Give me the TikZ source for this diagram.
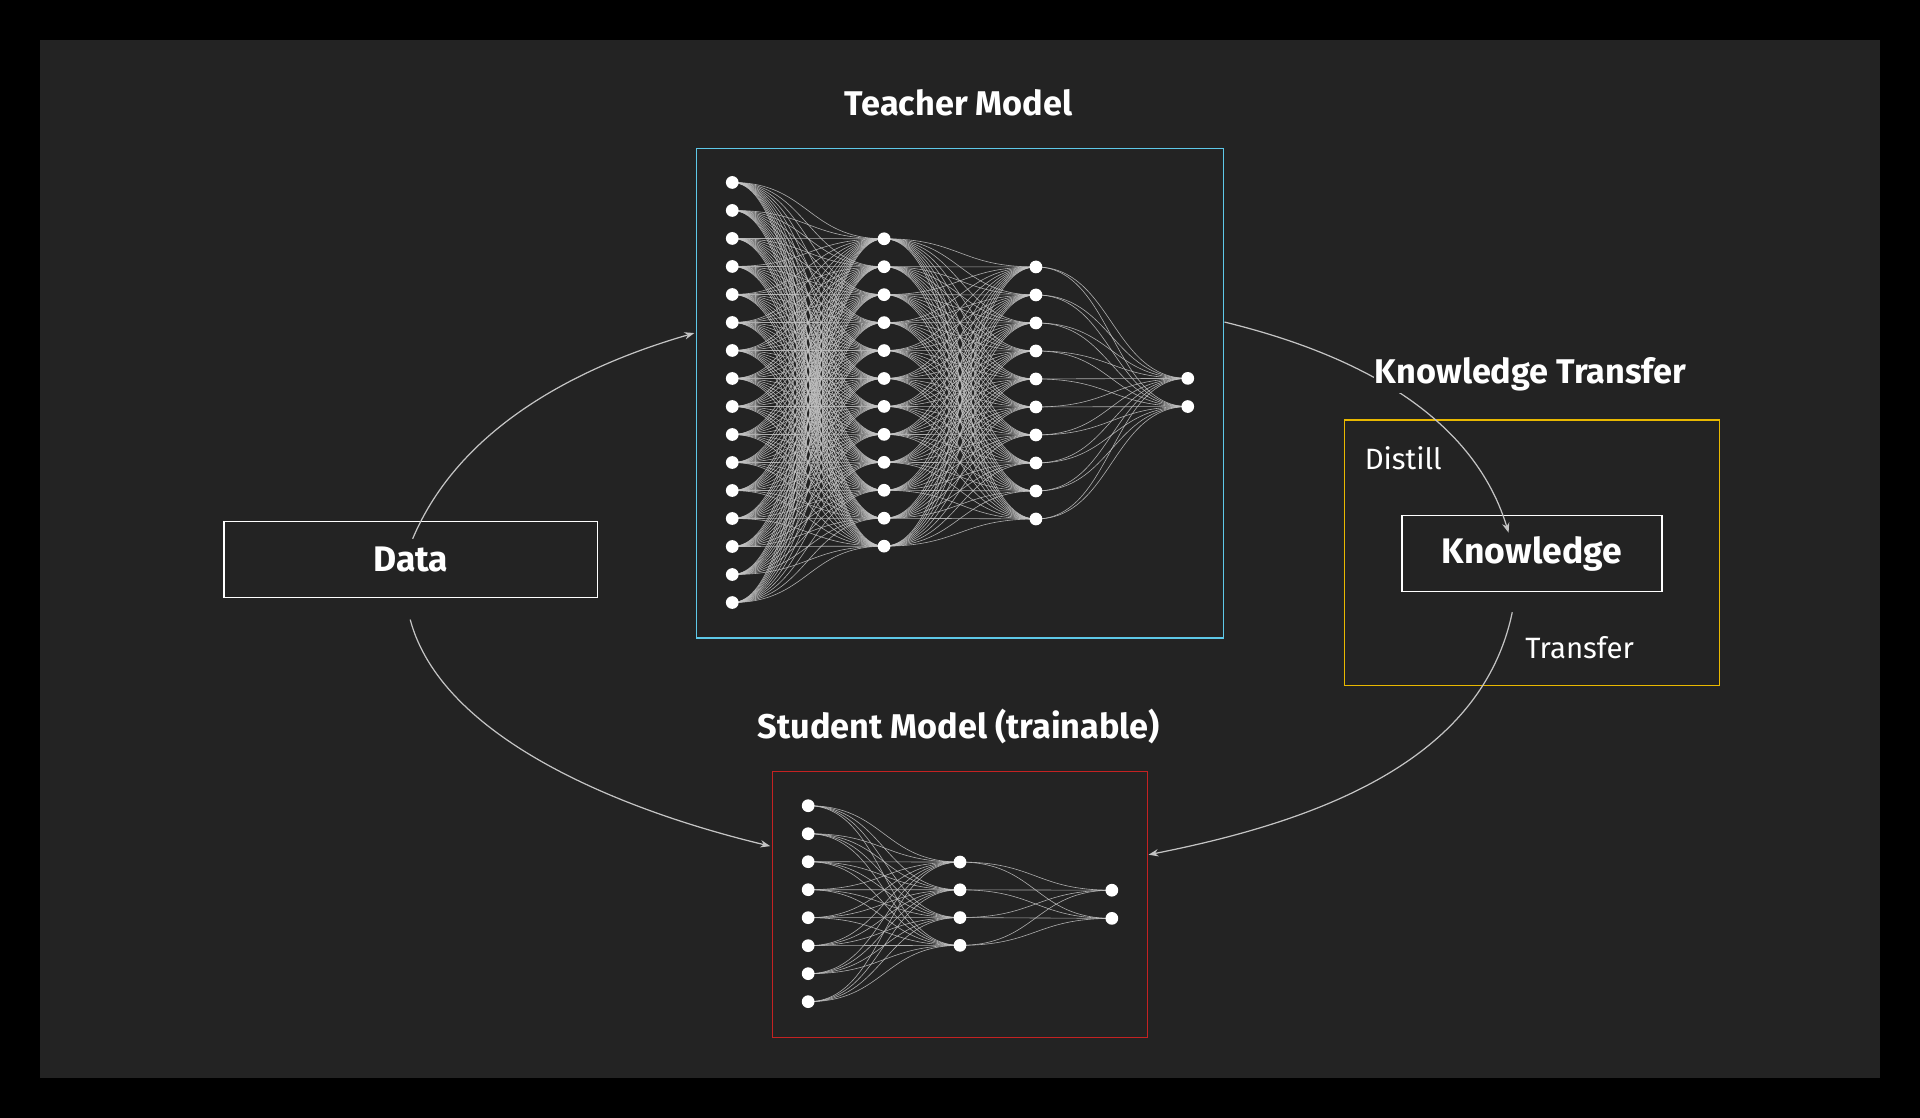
\documentclass[tikz,border=0pt]{standalone}
\usepackage{fontspec}
\setmainfont{Fira Sans}
\usetikzlibrary{arrows.meta}
\definecolor{bg}{HTML}{232323}
\definecolor{edge}{HTML}{C4C4C4}
\definecolor{tcyan}{HTML}{5EC8E8}
\definecolor{sred}{HTML}{C42222}
\definecolor{kyel}{HTML}{E8B800}
\tikzset{
  conn/.style={draw=edge, line width=0.5pt, opacity=0.85},
  neuron/.style={fill=white},
  flow/.style={draw=edge, line width=1pt, -{Stealth[length=8pt,width=6pt]}},
  title/.style={text=white, font=\fontsize{28}{32}\selectfont\bfseries},
  boxtext/.style={text=white, font=\fontsize{29}{34}\selectfont\bfseries},
  small/.style={text=white, font=\fontsize{24}{28}\selectfont},
}
\begin{document}
\begin{tikzpicture}[x=1pt,y=-1pt]
\useasboundingbox (0,0) rectangle (1568,913);
\fill[black] (0,0) rectangle (1568,913);
\fill[bg] (33,33) rectangle (1535,880);
% boxes
\node[draw=tcyan, line width=1pt, minimum width=430, minimum height=400, inner sep=0] (teacher) at (784,321) {};
\node[draw=sred, line width=1pt, minimum width=306, minimum height=217, inner sep=0] (student) at (784,738.5) {};
\node[draw=kyel, line width=1pt, minimum width=306, minimum height=217, inner sep=0] (kt) at (1251,451.5) {};
\node[title] (ttitle) at (783,84) {Teacher Model};
\node[title] (stitle) at (783,593) {Student Model (trainable)};
\node[draw=white, line width=1.4pt, minimum width=305, minimum height=62, boxtext] (data) at (335.5,457) {Data};
\node[draw=white, line width=1.4pt, minimum width=212, minimum height=62, boxtext] (know) at (1251,452) {Knowledge};
\node[small] (distill) at (1146,374) {Distill};
\node[small] (transfer) at (1290,529) {Transfer};
% teacher neurons
\foreach \i in {1,...,16} \coordinate (ta\i) at (598,{149+(\i-1)*22.87});
\foreach \i in {1,...,12} \coordinate (tb\i) at (722,{195+(\i-1)*22.82});
\foreach \i in {1,...,10} \coordinate (tc\i) at (846,{218+(\i-1)*22.87});
\foreach \i in {1,2} \coordinate (td\i) at (970,{309+(\i-1)*23});
\foreach \i in {1,...,16} \foreach \j in {1,...,12}
  \draw[conn] (ta\i) .. controls +(62,0) and +(-62,0) .. (tb\j);
\foreach \i in {1,...,12} \foreach \j in {1,...,10}
  \draw[conn] (tb\i) .. controls +(62,0) and +(-62,0) .. (tc\j);
\foreach \i in {1,...,10} \foreach \j in {1,2}
  \draw[conn] (tc\i) .. controls +(62,0) and +(-62,0) .. (td\j);
\foreach \n in {ta1,ta2,ta3,ta4,ta5,ta6,ta7,ta8,ta9,ta10,ta11,ta12,ta13,ta14,ta15,ta16,tb1,tb2,tb3,tb4,tb5,tb6,tb7,tb8,tb9,tb10,tb11,tb12,tc1,tc2,tc3,tc4,tc5,tc6,tc7,tc8,tc9,tc10,td1,td2}
  \fill[neuron] (\n) circle (5.2);
% student neurons
\foreach \i in {1,...,8} \coordinate (sa\i) at (660,{658+(\i-1)*22.86});
\foreach \i in {1,...,4} \coordinate (sb\i) at (784,{704+(\i-1)*22.67});
\foreach \i in {1,2} \coordinate (sc\i) at (908,{727+(\i-1)*23});
\foreach \i in {1,...,8} \foreach \j in {1,...,4}
  \draw[conn] (sa\i) .. controls +(62,0) and +(-62,0) .. (sb\j);
\foreach \i in {1,...,4} \foreach \j in {1,2}
  \draw[conn] (sb\i) .. controls +(62,0) and +(-62,0) .. (sc\j);
\foreach \n in {sa1,sa2,sa3,sa4,sa5,sa6,sa7,sa8,sb1,sb2,sb3,sb4,sc1,sc2}
  \fill[neuron] (\n) circle (5.2);
% flows
\coordinate (dtop) at (337,440);
\coordinate (dbot) at (335,506);
\coordinate (tin) at (567,272);
\coordinate (tout) at (1000,263);
\coordinate (kin) at (1232,435);
\coordinate (kout) at (1235,500);
\coordinate (sin) at (629,691);
\coordinate (sout) at (938,698);
\draw[flow] (dtop) .. controls (375,350) and (470,300) .. (tin);
\draw[flow] (dbot) .. controls (360,600) and (500,660) .. (sin);
\draw[flow] (tout) .. controls (1090,285) and (1200,330) .. (kin);
\draw[flow] (kout) .. controls (1210,620) and (1080,670) .. (sout);
\node[title, fill=bg, inner sep=1pt] (kttitle) at (1250,306) {Knowledge Transfer};
\end{tikzpicture}
\end{document}
